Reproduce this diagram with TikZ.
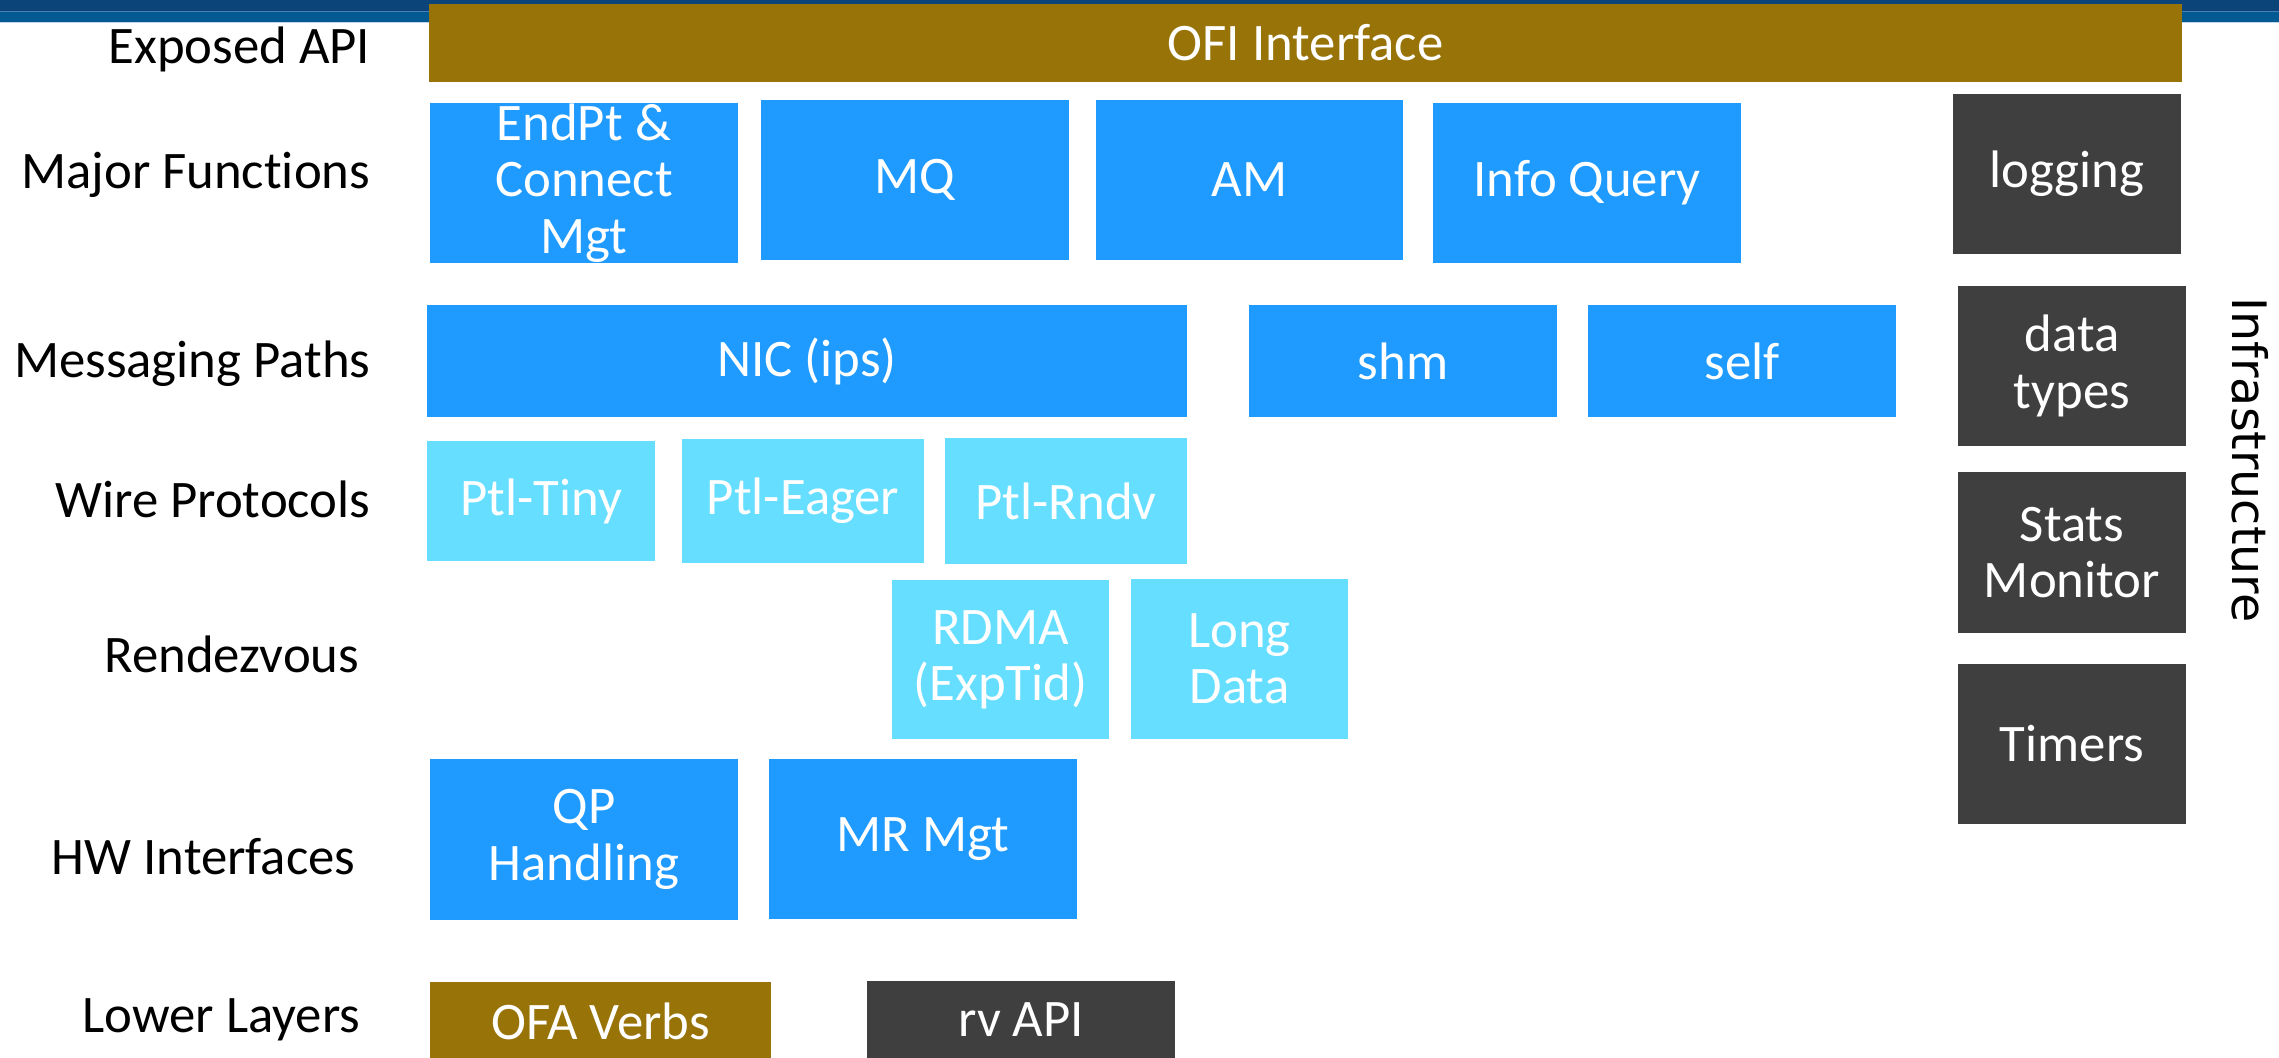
\documentclass[tikz,border=0pt]{standalone}
\usepackage{fontspec}
\setmainfont{Carlito}[Ligatures=NoCommon]
\newfontfamily\infrafont{DejaVu Sans}

\definecolor{ofigold}{RGB}{152,115,8}
\definecolor{psmblue}{RGB}{31,155,255}
\definecolor{psmcyan}{RGB}{102,222,255}
\definecolor{infragray}{RGB}{63,63,63}
\definecolor{banddark}{RGB}{10,68,120}
\definecolor{bandmid}{RGB}{3,90,146}
\definecolor{bandline}{RGB}{74,127,181}
\definecolor{bandlight}{RGB}{192,212,234}

\tikzset{
  anybox/.style={rectangle, inner sep=0pt, text=white, align=center,
    font=\fontsize{15}{16}\selectfont},
  fnbox/.style={anybox, fill=psmblue},
  ptlbox/.style={anybox, fill=psmcyan},
  infrabox/.style={anybox, fill=infragray},
  apibox/.style={anybox, fill=ofigold},
  layerlabel/.style={anchor=base east, inner sep=0pt, font=\fontsize{15}{16}\selectfont}
}

\begin{document}
\begin{tikzpicture}[x=0.01cm, y=-0.01cm]

    \useasboundingbox (0,0) rectangle (2279,1057);

    % header band of the slide
    \fill[banddark] (0,0) rectangle (2279,11);
    \fill[bandline] (0,11) rectangle (2279,12);
    \fill[bandmid] (0,12) rectangle (2279,22);
    \fill[bandlight] (0,22) rectangle (2279,23);

    % row labels
    \node[layerlabel] (lexposed) at (371,63) {Exposed API};
    \node[layerlabel] (lmajor) at (371,188) {Major Functions};
    \node[layerlabel] (lmsg) at (371,377) {Messaging Paths};
    \node[layerlabel] (lwire) at (371,517) {Wire Protocols};
    \node[layerlabel] (lrndz) at (360,672) {Rendezvous};
    \node[layerlabel] (lhw) at (356,874) {HW Interfaces};
    \node[layerlabel] (llower) at (361,1032) {Lower Layers};

    % exposed api
    \node[apibox, minimum width=17.51cm, minimum height=0.78cm] (ofi) at (1305.5,43) {OFI Interface};

    % major functions
    \node[fnbox, minimum width=3.08cm, minimum height=1.6cm] (endpt) at (584,183) {EndPt \&\\Connect\\Mgt};
    \node[fnbox, minimum width=3.08cm, minimum height=1.6cm] (mq) at (915,180) {MQ};
    \node[fnbox, minimum width=3.07cm, minimum height=1.6cm] (am) at (1249.5,180) {AM};
    \node[fnbox, minimum width=3.08cm, minimum height=1.6cm] (info) at (1587,183) {Info Query};

    % messaging paths
    \node[fnbox, minimum width=7.6cm, minimum height=1.12cm] (nic) at (807,361) {NIC (ips)};
    \node[fnbox, minimum width=3.08cm, minimum height=1.12cm] (shm) at (1403,361) {shm};
    \node[fnbox, minimum width=3.08cm, minimum height=1.12cm] (self) at (1742,361) {self};

    % wire protocols
    \node[ptlbox, minimum width=2.28cm, minimum height=1.19cm] (tiny) at (541,501) {Ptl-Tiny};
    \node[ptlbox, minimum width=2.42cm, minimum height=1.23cm] (eager) at (803,501) {Ptl-Eager};
    \node[ptlbox, minimum width=2.42cm, minimum height=1.26cm] (rndv) at (1066,501) {Ptl-Rndv};

    % rendezvous
    \node[ptlbox, minimum width=2.17cm, minimum height=1.59cm] (rdma) at (1000.5,659.5) {RDMA\\(ExpTid)};
    \node[ptlbox, minimum width=2.17cm, minimum height=1.6cm] (longdata) at (1239.5,659) {Long\\Data};

    % hw interfaces
    \node[fnbox, minimum width=3.08cm, minimum height=1.61cm] (qp) at (584,839.5) {QP\\Handling};
    \node[fnbox, minimum width=3.08cm, minimum height=1.6cm] (mr) at (923,839) {MR Mgt};

    % lower layers
    \node[apibox, minimum width=3.41cm, minimum height=0.78cm] (ofa) at (600.5,1021) {OFA Verbs};
    \node[infrabox, minimum width=3.08cm, minimum height=0.78cm] (rvapi) at (1021,1020) {rv API};

    % infrastructure column
    \node[infrabox, minimum width=2.28cm, minimum height=1.6cm] (logging) at (2067,174) {logging};
    \node[infrabox, minimum width=2.28cm, minimum height=1.6cm] (dtypes) at (2072,366) {data\\types};
    \node[infrabox, minimum width=2.28cm, minimum height=1.61cm] (stats) at (2072,552.5) {Stats\\Monitor};
    \node[infrabox, minimum width=2.28cm, minimum height=1.6cm] (timers) at (2072,744) {Timers};
    \node[rotate=-90, inner sep=0pt, font=\infrafont\fontsize{13.5}{16}\selectfont] (infra) at (2250,460) {Infrastructure};

\end{tikzpicture}
\end{document}
